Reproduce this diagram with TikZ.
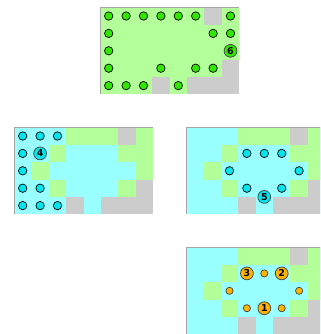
\documentclass[tikz,border=0pt]{standalone}
\usepackage{fontspec}
\setsansfont{DejaVu Sans}
\definecolor{cg}{HTML}{B3FF99}
\definecolor{cc}{HTML}{99FFFF}
\definecolor{cgr}{HTML}{CCCCCC}
\definecolor{limec}{HTML}{33E600}
\definecolor{cyac}{HTML}{00E6EE}
\definecolor{orgc}{HTML}{FFB300}
\begin{document}
\begin{tikzpicture}[x=17.4pt,y=-17.4pt,
  dot/.style={circle,draw=black,line width=0.7pt,inner sep=0pt,minimum size=8.4pt},
  sdot/.style={circle,draw=black!80,line width=0.6pt,inner sep=0pt,minimum size=7.2pt},
  big/.style={circle,draw=black!70,line width=0.8pt,inner sep=0pt,minimum size=12.8pt,
    font=\sffamily\bfseries\fontsize{9.5}{9.5}\selectfont},
  edge/.style={draw=black!35,line width=0.5pt}]
\useasboundingbox (0,0) rectangle (18.391,19.195);
\fill[white] (0,0) rectangle (18.391,19.195);
\clip (0,0) rectangle (18.391,19.195);
% ---------- panel 1 ----------
\begin{scope}[shift={(5.747,0.4195)}]
  \fill[cg] (0,0) rectangle (8,5);
  \foreach \c/\r in {6/0,7/3,3/4,5/4,6/4,7/4} \fill[cgr] (\c,\r) rectangle ++(1,1);
  \draw[edge] (0,5) -- (0,0) -- (8,0);
  \foreach \c/\r in {0/0,1/0,2/0,3/0,4/0,5/0,7/0,0/1,6/1,7/1,0/2,0/3,3/3,5/3,6/3,0/4,1/4,2/4,4/4}
    \node[dot,fill=limec] (a\c\r) at (\c+0.5,\r+0.5) {};
  \node[big,fill=limec] (a6) at (7.5,2.5) {6};
\end{scope}
% ---------- background for panels 2-4 ----------
\foreach \sx/\sy/\nm in {0.8046/7.316/b, 10.69/7.316/c, 10.69/14.213/d}{
  \begin{scope}[shift={(\sx,\sy)}]
    \fill[cc] (0,0) rectangle (8,5);
    \foreach \c/\r in {3/0,4/0,5/0,7/0,2/1,6/1,7/1,1/2,7/2,2/3,6/3} \fill[cg] (\c,\r) rectangle ++(1,1);
    \foreach \c/\r in {6/0,7/3,3/4,5/4,6/4,7/4} \fill[cgr] (\c,\r) rectangle ++(1,1);
    \draw[edge] (0,5) -- (0,0) -- (8,0);
  \end{scope}
}
% ---------- panel 2 ----------
\begin{scope}[shift={(0.8046,7.316)}]
  \foreach \c/\r in {0/0,1/0,2/0,0/1,0/2,0/3,1/3,0/4,1/4,2/4}
    \node[dot,fill=cyac] (b\c\r) at (\c+0.5,\r+0.5) {};
  \node[big,fill=cyac] (b4) at (1.5,1.5) {4};
\end{scope}
% ---------- panel 3 ----------
\begin{scope}[shift={(10.69,7.316)}]
  \foreach \c/\r in {3/1,4/1,5/1,2/2,6/2,3/3,5/3}
    \node[dot,fill=cyac] (c\c\r) at (\c+0.5,\r+0.5) {};
  \node[big,fill=cyac] (c5) at (4.5,4) {5};
\end{scope}
% ---------- panel 4 ----------
\begin{scope}[shift={(10.69,14.213)}]
  \foreach \c/\r in {4/1,2/2,6/2,3/3,5/3}
    \node[sdot,fill=orgc] (d\c\r) at (\c+0.5,\r+0.5) {};
  \node[big,fill=orgc] (d3) at (3.5,1.5) {3};
  \node[big,fill=orgc] (d2) at (5.5,1.5) {2};
  \node[big,fill=orgc] (d1) at (4.5,3.5) {1};
\end{scope}
\end{tikzpicture}
\end{document}
